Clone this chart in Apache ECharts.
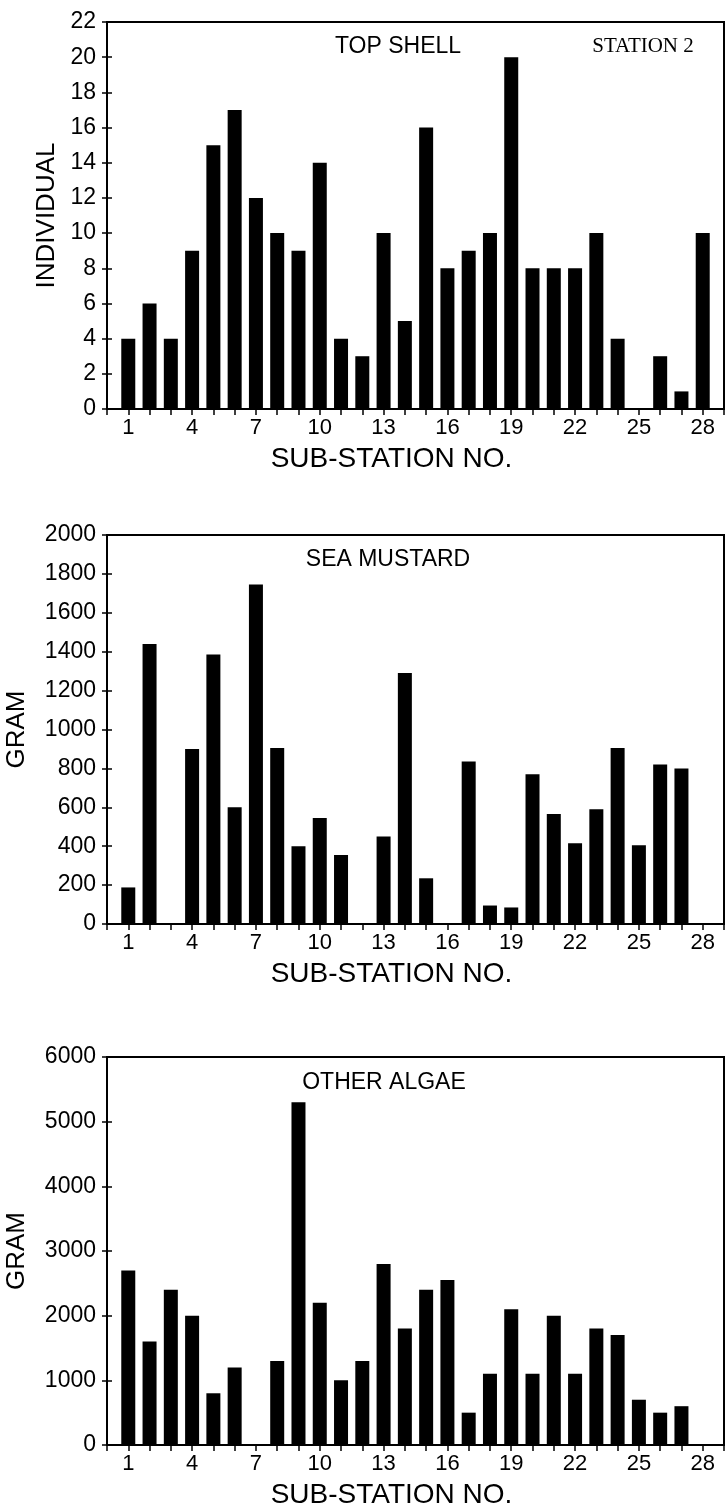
<!DOCTYPE html>
<html>
<head>
<meta charset="utf-8">
<style>html,body{margin:0;padding:0;background:#fff;}#c{width:726px;height:1509px;}</style>
<script src="https://cdn.jsdelivr.net/npm/echarts@6/dist/echarts.min.js"></script>
</head>
<body>
<div id="c"></div>
<script>
const stations = ['1','2','3','4','5','6','7','8','9','10','11','12','13','14','15','16','17','18','19','20','21','22','23','24','25','26','27','28'];
const topShell = [4,6,4,9,15,17,12,10,9,14,4,3,10,5,16,8,9,10,20,8,8,8,10,4,0,3,1,10];
const seaMustard = [188,1440,0,900,1385,600,1745,905,400,545,355,0,450,1290,235,0,835,95,85,770,565,415,590,905,405,820,800,0];
const otherAlgae = [2700,1600,2400,2000,800,1200,0,1300,5300,2200,1000,1300,2800,1800,2400,2550,500,1100,2100,1100,2000,1100,1800,1700,700,500,600,0];
const panelTitles = ['TOP SHELL','SEA MUSTARD','OTHER ALGAE'];
const yNames = ['INDIVIDUAL','GRAM','GRAM'];
const yMax = [22,2000,6000];
const yInterval = [2,200,1000];
const xName = 'SUB-STATION NO.';
const stationLabel = 'STATION 2';

const series = [topShell, seaMustard, otherAlgae];
const xCats = [''].concat(stations, ['']);
const grids = [{top:22,height:387},{top:535,height:389},{top:1057,height:388}];
const nameGaps = [47,77,77];
const font = 'Liberation Sans, Arial, Helvetica, sans-serif';

const option = {
  backgroundColor:'#fff',
  animation:false,
  grid: grids.map(g=>({left:107,right:2,top:g.top,height:g.height,show:true,borderColor:'#000',borderWidth:2,backgroundColor:'transparent',containLabel:false,outerBoundsMode:'none'})),
  xAxis: grids.map((g,i)=>({
    type:'category', gridIndex:i, data:xCats, boundaryGap:false,
    axisLine:{show:true,onZero:false,lineStyle:{color:'#000',width:2}},
    axisTick:{show:true,interval:0,length:6,lineStyle:{color:'#000',width:1.5}},
    axisLabel:{show:true,interval:(idx)=>idx%3===1,margin:8,color:'#000',fontSize:22,fontFamily:font},
    splitLine:{show:false},
    name:xName, nameLocation:'middle', nameGap:36,
    nameTextStyle:{color:'#000',fontSize:28,fontFamily:font,padding:[0,48,0,0],verticalAlign:'top'}
  })),
  yAxis: [].concat(...grids.map((g,i)=>[
    {
      type:'value', gridIndex:i, min:0, max:yMax[i], interval:yInterval[i],
      axisLine:{show:true,lineStyle:{color:'#000',width:2}},
      axisTick:{show:true,length:5,lineStyle:{color:'#000',width:1.5}},
      axisLabel:{margin:11,color:'#000',fontSize:23,fontFamily:font,formatter:(v)=>String(v)},
      splitLine:{show:false},
      name:yNames[i], nameLocation:'middle', nameGap:nameGaps[i], nameRotate:90,
      nameTextStyle:{color:'#000',fontSize:26,fontFamily:font}
    },
    {
      type:'value', gridIndex:i, min:0, max:yMax[i], interval:yInterval[i], position:'left',
      axisLine:{show:false},
      axisTick:{show:true,inside:true,length:5,lineStyle:{color:'#000',width:1.5}},
      axisLabel:{show:false}, splitLine:{show:false}
    }
  ])),
  series: series.map((d,i)=>({
    type:'bar', xAxisIndex:i, yAxisIndex:i*2, barWidth:14,
    data:[null].concat(d,[null]),
    itemStyle:{color:'#000'}
  })),
  graphic: [
    {type:'text',x:398,y:47,style:{text:panelTitles[0],font:'23px '+font,fill:'#000',textAlign:'center',textVerticalAlign:'middle'}},
    {type:'text',x:643,y:46,style:{text:stationLabel,font:'21px Liberation Serif, Times New Roman, serif',fill:'#000',textAlign:'center',textVerticalAlign:'middle'}},
    {type:'text',x:388,y:560,style:{text:panelTitles[1],font:'23px '+font,fill:'#000',textAlign:'center',textVerticalAlign:'middle'}},
    {type:'text',x:384,y:1083,style:{text:panelTitles[2],font:'23px '+font,fill:'#000',textAlign:'center',textVerticalAlign:'middle'}}
  ]
};
const chart = echarts.init(document.getElementById('c'), null, {renderer:'canvas'});
chart.setOption(option);
</script>
</body>
</html>
